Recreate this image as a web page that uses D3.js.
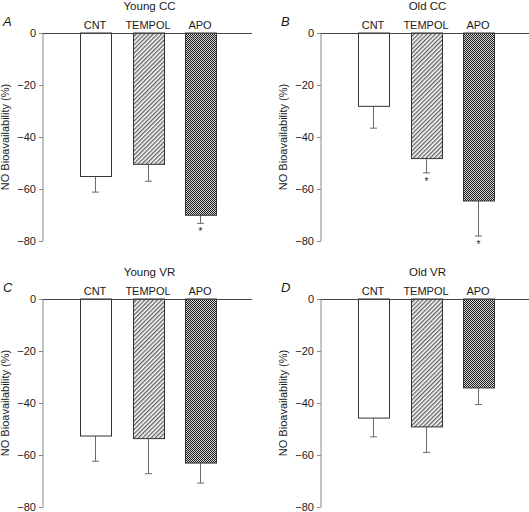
<!DOCTYPE html>
<html>
<head>
<meta charset="utf-8">
<script src="https://cdn.jsdelivr.net/npm/d3@7"></script>
<style>
  html, body { margin: 0; padding: 0; background: #fff; }
  svg { display: block; }
  text { font-family: "Liberation Sans", Arial, Helvetica, sans-serif; fill: #1a1a1a; }
</style>
</head>
<body>
<svg id="chart" width="529" height="512"></svg>
<script>
// ---- Data ----
const categories = ["CNT", "TEMPOL", "APO"];
const yTicks = [0, -20, -40, -60, -80];
const panelTitles = ["Young CC", "Old CC", "Young VR", "Old VR"];
const panelLetters = ["A", "B", "C", "D"];
const meansA = [-55.2, -50.5, -70.1];
const errorsA = [-61.2, -57.0, -73.2];
const starsA = [false, false, true];
const meansB = [-28.2, -48.3, -64.6];
const errorsB = [-36.6, -53.8, -78.1];
const starsB = [false, true, true];
const meansC = [-52.7, -53.7, -63.1];
const errorsC = [-62.4, -67.2, -70.8];
const starsC = [false, false, false];
const meansD = [-45.8, -49.2, -34.2];
const errorsD = [-53.0, -59.0, -40.6];
const starsD = [false, false, false];

const panels = [
  { title: panelTitles[0], letter: panelLetters[0], means: meansA, errors: errorsA, stars: starsA, ox: 43, oy: 33, w: 209 },
  { title: panelTitles[1], letter: panelLetters[1], means: meansB, errors: errorsB, stars: starsB, ox: 321, oy: 33, w: 209 },
  { title: panelTitles[2], letter: panelLetters[2], means: meansC, errors: errorsC, stars: starsC, ox: 43, oy: 299, w: 209 },
  { title: panelTitles[3], letter: panelLetters[3], means: meansD, errors: errorsD, stars: starsD, ox: 321, oy: 299, w: 209 }
];

const svg = d3.select("#chart");
const defs = svg.append("defs");

// diagonal hatch
const hatch = defs.append("pattern")
  .attr("id", "hatch").attr("patternUnits", "userSpaceOnUse")
  .attr("width", 3).attr("height", 3)
  .attr("patternTransform", "rotate(45)");
hatch.append("rect").attr("width", 3).attr("height", 3).attr("fill", "#fff");
hatch.append("line").attr("x1", 0.75).attr("y1", 0).attr("x2", 0.75).attr("y2", 3)
  .attr("stroke", "#3a3a3a").attr("stroke-width", 1.1);

// checker
const check = defs.append("pattern")
  .attr("id", "check").attr("patternUnits", "userSpaceOnUse")
  .attr("width", 2).attr("height", 2);
check.append("rect").attr("width", 2).attr("height", 2).attr("fill", "#d4d4d4")
  .attr("shape-rendering", "crispEdges");
check.append("rect").attr("width", 1).attr("height", 1).attr("fill", "#1e1e1e")
  .attr("shape-rendering", "crispEdges");
check.append("rect").attr("x", 1).attr("y", 1).attr("width", 1).attr("height", 1).attr("fill", "#1e1e1e")
  .attr("shape-rendering", "crispEdges");

const fills = ["#ffffff", "url(#hatch)", "url(#check)"];
const plotH = 208;
const barW = 31;

panels.forEach(p => {
  const g = svg.append("g").attr("transform", `translate(${p.ox},${p.oy})`);
  const x = d3.scalePoint().domain(categories).range([0, p.w]).padding(1);
  const y = d3.scaleLinear().domain([0, -80]).range([0, plotH]);

  // y axis
  const yAxis = d3.axisLeft(y).tickValues(yTicks).tickSize(4).tickPadding(3).tickFormat(d3.format("d"));
  const ga = g.append("g").call(yAxis);
  ga.select(".domain").attr("stroke", "#8a8a8a").attr("stroke-width", 1)
    .attr("d", `M0,${y(0)}V${y(-80)}`);
  ga.selectAll(".tick line").attr("stroke", "#8a8a8a");
  ga.selectAll(".tick text").style("font-size", "11px").attr("fill", "#1a1a1a")
    .style("font-family", '"Liberation Sans", Arial, sans-serif');

  // bars
  categories.forEach((c, i) => {
    const cx = Math.round(x(c));
    // error bar
    g.append("line").attr("x1", cx + 0.5).attr("x2", cx + 0.5)
      .attr("y1", y(p.means[i])).attr("y2", y(p.errors[i]))
      .attr("stroke", "#6a6a6a").attr("stroke-width", 1);
    g.append("line").attr("x1", cx - 3).attr("x2", cx + 4)
      .attr("y1", y(p.errors[i])).attr("y2", y(p.errors[i]))
      .attr("stroke", "#6a6a6a").attr("stroke-width", 1);
    g.append("rect")
      .attr("x", cx - 15 + 0.5).attr("y", y(0))
      .attr("width", barW).attr("height", y(p.means[i]) - y(0))
      .attr("fill", fills[i]).attr("stroke", "#333").attr("stroke-width", 1);
    if (p.stars[i]) {
      g.append("text").attr("x", cx + 0.5).attr("y", y(p.errors[i]) + 12)
        .attr("text-anchor", "middle").style("font-size", "10px").text("*");
    }
    // category label
    g.append("text").attr("x", cx).attr("y", -4.5)
      .attr("text-anchor", "middle").style("font-size", "11px").text(c);
  });

  // zero line
  g.append("line").attr("x1", 0).attr("x2", p.w).attr("y1", y(0) + 0.5).attr("y2", y(0) + 0.5)
    .attr("stroke", "#444").attr("stroke-width", 1);

  // title
  g.append("text").attr("x", x(categories[1]) + 2).attr("y", -23.5)
    .attr("text-anchor", "middle").style("font-size", "11.5px").text(p.title);

  // letter
  g.append("text").attr("x", -40).attr("y", -7)
    .style("font-size", "13px").style("font-style", "italic").text(p.letter);

  // y label
  g.append("text")
    .attr("transform", `translate(-34,${plotH / 2}) rotate(-90)`)
    .attr("text-anchor", "middle").style("font-size", "11px")
    .text("NO Bioavailability (%)");
});
</script>
</body>
</html>
